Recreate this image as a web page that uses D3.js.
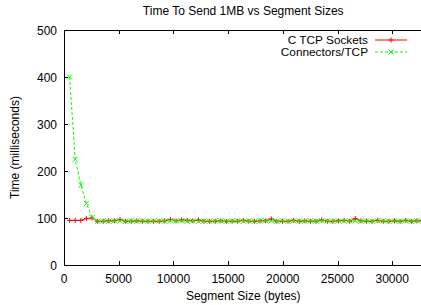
<!DOCTYPE html>
<html>
<head>
<meta charset="utf-8">
<script src="https://cdn.jsdelivr.net/npm/d3@7"></script>
<style>
  body { margin: 0; background: #fff; }
  text { font-family: "Liberation Sans", Arial, sans-serif; font-size: 12px; fill: #000; }
</style>
</head>
<body>
<div id="canvas"></div>
<script>
// segment sizes: 512, 1024, ... 32768 bytes
const segmentSizes = d3.range(1, 65).map(i => i * 512);

const cTcpTimes = [
    95, 95, 95, 99, 100, 93, 93, 94, 94, 97,
    93, 93, 94, 93, 93, 93, 93, 94, 97, 94,
    96, 95, 94, 96, 93, 93, 93, 94, 93, 93,
    93, 95, 93, 93, 94, 94, 98, 93, 93, 93,
    95, 93, 94, 93, 93, 96, 93, 93, 94, 95,
    93, 99, 94, 93, 93, 95, 93, 93, 94, 93,
    95, 93, 94, 94
];

const connectorsTimes = [
    400, 225, 170, 131, 101, 93, 94, 93, 94, 94,
    93, 94, 93, 94, 93, 94, 94, 93, 94, 94,
    94, 93, 94, 93, 94, 93, 94, 94, 93, 94,
    94, 93, 94, 93, 94, 94, 94, 93, 94, 93,
    94, 94, 93, 94, 93, 94, 94, 93, 94, 93,
    94, 94, 93, 94, 93, 94, 94, 93, 94, 93,
    94, 93, 94, 93
];

const xTicks = [0, 5000, 10000, 15000, 20000, 25000, 30000];
const yTicks = [0, 100, 200, 300, 400, 500];

const series = [
    { name: "C TCP Sockets", values: cTcpTimes, color: "#ff0000", dash: null, marker: "plus" },
    { name: "Connectors/TCP", values: connectorsTimes, color: "#00ff00", dash: "3,2", marker: "cross" }
];

const width = 421, height = 305;
const plotLeft = 64, plotRight = 422.5, plotTop = 30, plotBottom = 265;

const svg = d3.select("#canvas").append("svg")
    .attr("width", width)
    .attr("height", height);

const x = d3.scaleLinear().domain([0, 32768]).range([plotLeft, plotRight]);
const y = d3.scaleLinear().domain([0, 500]).range([plotBottom, plotTop]);

// ticks (inward, mirrored on top)
const tickLen = 4;
const ticks = svg.append("g").attr("stroke", "#000").attr("stroke-width", 1);
xTicks.forEach(t => {
    const px = Math.round(x(t)) + 0.5;
    ticks.append("line").attr("x1", px).attr("x2", px).attr("y1", plotBottom).attr("y2", plotBottom - tickLen);
    ticks.append("line").attr("x1", px).attr("x2", px).attr("y1", plotTop).attr("y2", plotTop + tickLen);
});
yTicks.forEach(t => {
    const py = Math.round(y(t)) + 0.5;
    ticks.append("line").attr("x1", plotLeft).attr("x2", plotLeft + tickLen).attr("y1", py).attr("y2", py);
});

svg.selectAll(".xlab").data(xTicks).enter().append("text")
    .attr("x", d => x(d))
    .attr("y", 283)
    .attr("text-anchor", "middle")
    .text(d => d);

svg.selectAll(".ylab").data(yTicks).enter().append("text")
    .attr("x", 57)
    .attr("y", d => y(d) + 4.5)
    .attr("text-anchor", "end")
    .text(d => d);

// frame
svg.append("path")
    .attr("d", `M${plotRight},${plotTop + 0.5}H${plotLeft + 0.5}V${plotBottom + 0.5}H${plotRight}`)
    .attr("fill", "none")
    .attr("stroke", "#000")
    .attr("stroke-width", 1);

const line = d3.line()
    .x((d, i) => x(segmentSizes[i]))
    .y(d => y(d));

function drawMarker(g, kind, cx, cy, color) {
    const s = 2.5;
    if (kind === "plus") {
        g.append("path").attr("d", `M${cx - s},${cy}H${cx + s}M${cx},${cy - s}V${cy + s}`)
            .attr("stroke", color).attr("stroke-width", 1).attr("fill", "none");
    } else {
        g.append("path").attr("d", `M${cx - s},${cy - s}L${cx + s},${cy + s}M${cx - s},${cy + s}L${cx + s},${cy - s}`)
            .attr("stroke", color).attr("stroke-width", 1).attr("fill", "none");
    }
}

series.forEach(s => {
    const g = svg.append("g");
    g.append("path")
        .datum(s.values)
        .attr("fill", "none")
        .attr("stroke", s.color)
        .attr("stroke-width", 1)
        .attr("stroke-dasharray", s.dash)
        .attr("d", line);
    s.values.forEach((v, i) => drawMarker(g, s.marker, x(segmentSizes[i]), y(v), s.color));
});

// legend
series.forEach((s, i) => {
    const ly = 40 + i * 12;
    svg.append("text")
        .attr("x", 368)
        .attr("y", ly + 4)
        .attr("text-anchor", "end")
        .style("font-size", "11.8px")
        .text(s.name);
    svg.append("line")
        .attr("x1", 375).attr("x2", 407)
        .attr("y1", ly).attr("y2", ly)
        .attr("stroke", s.color)
        .attr("stroke-width", 1)
        .attr("stroke-dasharray", s.dash);
    drawMarker(svg, s.marker, 391, ly, s.color);
});

// titles
svg.append("text")
    .attr("x", (plotLeft + plotRight) / 2)
    .attr("y", 15)
    .attr("text-anchor", "middle")
    .text("Time To Send 1MB vs Segment Sizes");

svg.append("text")
    .attr("x", (plotLeft + plotRight) / 2)
    .attr("y", 300)
    .attr("text-anchor", "middle")
    .text("Segment Size (bytes)");

svg.append("text")
    .attr("transform", `translate(19,${(plotTop + plotBottom) / 2}) rotate(-90)`)
    .attr("text-anchor", "middle")
    .text("Time (milliseconds)");
</script>
</body>
</html>
